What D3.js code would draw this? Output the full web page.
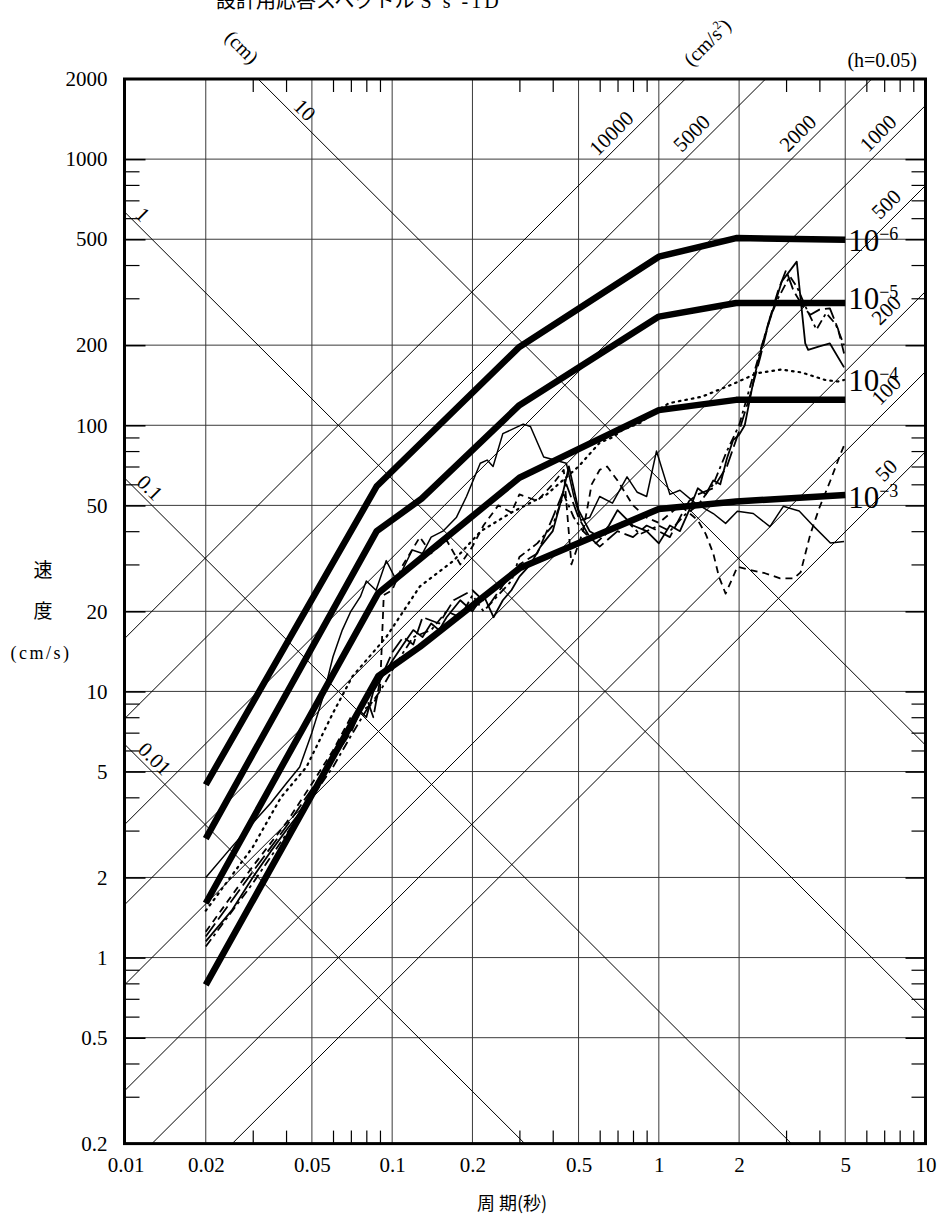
<!DOCTYPE html>
<html>
<head>
<meta charset="utf-8">
<script src="https://cdn.jsdelivr.net/npm/d3@7"></script>
<style>
  body { margin: 0; background: #fff; }
  svg { display: block; }
  .serif { font-family: "Liberation Serif", "Times New Roman", Times, "DejaVu Serif", serif; }
  .cjk { font-family: "Noto Sans CJK JP", "Noto Sans CJK SC", sans-serif; }
</style>
</head>
<body>
<svg id="chart" width="941" height="1218"></svg>
<script>
// axis ticks
const xTicks = [0.01, 0.02, 0.05, 0.1, 0.2, 0.5, 1, 2, 5, 10];
const xTickLabels = ["0.01", "0.02", "0.05", "0.1", "0.2", "0.5", "1", "2", "5", "10"];
const yTicks = [0.2, 0.5, 1, 2, 5, 10, 20, 50, 100, 200, 500, 1000, 2000];
const yTickLabels = ["0.2", "0.5", "1", "2", "5", "10", "20", "50", "100", "200", "500", "1000", "2000"];
const xGrid = [0.02, 0.05, 0.1, 0.2, 0.5, 1, 2, 5];
const yGrid = [0.5, 1, 2, 5, 10, 20, 50, 100, 200, 500, 1000];

// tripartite lines
const accelValues = [50, 100, 200, 500, 1000, 2000, 5000, 10000];   // cm/s2
const dispValues = [0.01, 0.1, 1, 10];                               // cm

// design spectra (period s, velocity cm/s)
const levelNames = ["-6", "-5", "-4", "-3"];
const level6 = [[0.02, 4.46], [0.0875, 59], [0.3, 197], [1, 430], [1.95, 505], [5, 498]];
const level5 = [[0.02, 2.8], [0.0875, 40], [0.129, 53], [0.3, 119], [1, 256], [1.95, 288], [5, 288]];
const level4 = [[0.02, 1.6], [0.0886, 23.4], [0.3, 63.5], [1, 114], [1.95, 124.6], [5, 124.6]];
const level3 = [[0.02, 0.79], [0.0886, 11.4], [0.127, 14.7], [0.3, 29], [1, 48.5], [1.95, 51.7], [5, 54.7]];

// observed spectra
const waveA = [[0.02, 2.0], [0.025, 2.6], [0.03, 3.2], [0.035, 3.8], [0.04, 4.5], [0.045, 5.2], [0.05, 7], [0.055, 9.5],
  [0.06, 13.5], [0.065, 17], [0.07, 20], [0.076, 22.7], [0.08, 26], [0.087, 24], [0.095, 31], [0.104, 26], [0.11, 29],
  [0.119, 34], [0.13, 33], [0.14, 38], [0.155, 40], [0.174, 45], [0.19, 54], [0.214, 72], [0.227, 74], [0.239, 70],
  [0.26, 93], [0.31, 101], [0.33, 99], [0.37, 76], [0.45, 72], [0.48, 54], [0.51, 44], [0.55, 45], [0.6, 54],
  [0.67, 51], [0.76, 64], [0.83, 56], [0.9, 54], [0.98, 80], [1.1, 55], [1.2, 57], [1.37, 51], [1.6, 46.6],
  [1.78, 42.8], [1.97, 47.5], [2.26, 46.6], [2.61, 41.6], [2.93, 49.6], [3.36, 47.6], [3.82, 41.6], [4.4, 36.1], [4.95, 36.6]];
const waveB = [[0.02, 1.15], [0.025, 1.5], [0.03, 2.0], [0.035, 2.5], [0.04, 3.0], [0.045, 3.5], [0.05, 4.2], [0.055, 4.8],
  [0.06, 5.5], [0.065, 6.5], [0.07, 7.5], [0.075, 8.5], [0.08, 8], [0.085, 10], [0.09, 11], [0.1, 13], [0.11, 15],
  [0.12, 17], [0.13, 16], [0.14, 18], [0.15, 17], [0.16, 19], [0.18, 22], [0.2, 20], [0.22, 23], [0.24, 19], [0.26, 22],
  [0.28, 24], [0.3, 27], [0.33, 30], [0.36, 35], [0.4, 40], [0.43, 52], [0.46, 70], [0.5, 48], [0.55, 40], [0.6, 38],
  [0.65, 42], [0.7, 48], [0.8, 42], [0.9, 40], [1.0, 36], [1.1, 42], [1.2, 40], [1.3, 48], [1.4, 58], [1.5, 55],
  [1.6, 62], [1.7, 60], [1.8, 75], [1.9, 88], [2.0, 92], [2.1, 100], [2.28, 152], [2.47, 209], [2.7, 278], [2.89, 347],
  [3.29, 412], [3.54, 203], [3.63, 192], [4.0, 198], [4.38, 203], [4.95, 165]];
const waveC = [[0.02, 1.2], [0.03, 2.1], [0.04, 3.1], [0.05, 4.3], [0.06, 5.6], [0.07, 7], [0.08, 9.5], [0.085, 8],
  [0.09, 11], [0.1, 14], [0.11, 16], [0.12, 15], [0.13, 19], [0.15, 18], [0.17, 22], [0.2, 24], [0.23, 21], [0.26, 25],
  [0.3, 30], [0.35, 33], [0.4, 45], [0.45, 60], [0.5, 45], [0.55, 38], [0.6, 35], [0.7, 40], [0.8, 38], [0.9, 42],
  [1.0, 40], [1.1, 38], [1.2, 45], [1.3, 52], [1.4, 55], [1.6, 58], [1.8, 70], [2.0, 95], [2.2, 130], [2.4, 180],
  [2.6, 250], [2.8, 320], [3.0, 383], [3.2, 320], [3.48, 278], [3.7, 260], [4.0, 272], [4.38, 275], [4.7, 230], [4.95, 186]];
const waveD = [[0.02, 1.1], [0.03, 1.9], [0.04, 2.9], [0.05, 4.0], [0.06, 5.2], [0.07, 6.8], [0.08, 8.5], [0.09, 10],
  [0.1, 12], [0.11, 14], [0.12, 16], [0.14, 17], [0.16, 20], [0.18, 19], [0.2, 23], [0.22, 20], [0.25, 23], [0.28, 26],
  [0.3, 32], [0.35, 36], [0.4, 42], [0.44, 55], [0.48, 45], [0.52, 40], [0.58, 36], [0.65, 40], [0.75, 44], [0.85, 39],
  [1.0, 42], [1.1, 40], [1.25, 46], [1.4, 50], [1.6, 60], [1.8, 80], [2.0, 100], [2.2, 140], [2.4, 190], [2.6, 250],
  [2.8, 300], [3.1, 363], [3.3, 330], [3.59, 272], [3.9, 229], [4.24, 264], [4.6, 240], [4.95, 200]];
const waveE = [[0.02, 1.25], [0.03, 2.2], [0.04, 3.2], [0.05, 4.5], [0.06, 6], [0.07, 8], [0.085, 9], [0.09, 10],
  [0.093, 23], [0.1, 24], [0.11, 30], [0.127, 38], [0.14, 33], [0.16, 37], [0.18, 30], [0.2, 35], [0.22, 42], [0.25, 50],
  [0.28, 47], [0.3, 55], [0.35, 52], [0.4, 60], [0.44, 68], [0.47, 30], [0.52, 40], [0.56, 60], [0.6, 68], [0.64, 70],
  [0.7, 62], [0.8, 50], [0.9, 45], [1.0, 43], [1.2, 50], [1.4, 44], [1.5, 39], [1.6, 33], [1.68, 27], [1.78, 23.3],
  [1.9, 27], [1.97, 29.4], [2.2, 28.6], [2.5, 27.8], [2.85, 26.6], [3.2, 26.6], [3.4, 28], [3.7, 39], [4.0, 49],
  [4.4, 62], [4.8, 78], [4.95, 84]];
const waveF = [[0.02, 1.5], [0.03, 2.6], [0.0383, 4.0], [0.0477, 5.2], [0.06, 8.3], [0.071, 11.4], [0.095, 16],
  [0.127, 24.8], [0.17, 31], [0.215, 40], [0.28, 47], [0.38, 55], [0.5, 70], [0.6, 86], [0.67, 90], [0.73, 96],
  [0.85, 102], [0.95, 111], [1.09, 121], [1.45, 128], [1.87, 142], [2.34, 157], [2.88, 162], [3.42, 158],
  [4.2, 148], [4.7, 146], [4.95, 148]];

const svg = d3.select("#chart");
const W = 941, H = 1218;
const pL = 125.5, pR = 925.5, pT = 79, pB = 1143.6;

svg.append("rect").attr("width", W).attr("height", H).attr("fill", "#fff");

const x = d3.scaleLog().domain([0.01, 10]).range([pL, pR]);
const y = d3.scaleLog().domain([0.2, 2000]).range([pB, pT]);

svg.append("clipPath").attr("id", "plotclip")
  .append("rect").attr("x", pL).attr("y", pT).attr("width", pR - pL).attr("height", pB - pT);

// grid
const grid = svg.append("g");
grid.selectAll(".vg").data(xGrid).enter().append("line")
  .attr("x1", d => x(d)).attr("x2", d => x(d)).attr("y1", pT).attr("y2", pB)
  .attr("stroke", "#3a3a3a").attr("stroke-width", 1);
grid.selectAll(".hg").data(yGrid).enter().append("line")
  .attr("x1", pL).attr("x2", pR).attr("y1", d => y(d)).attr("y2", d => y(d))
  .attr("stroke", "#3a3a3a").attr("stroke-width", 1);

// minor ticks on all four sides, pointing inward
const minorX = [];
[0.01, 0.1, 1].forEach(dec => [3, 4, 6, 7, 8, 9].forEach(m => minorX.push(+(dec * m).toPrecision(3))));
const minorY = [];
[0.1, 1, 10, 100].forEach(dec => [3, 4, 6, 7, 8, 9].forEach(m => {
  const v = +(dec * m).toPrecision(3);
  if (v >= 0.2 && v <= 2000) minorY.push(v);
}));

function tickAxis(axis, tx, ty) {
  const g = svg.append("g").attr("transform", `translate(${tx},${ty})`).call(axis);
  g.select(".domain").remove();
  g.selectAll("line").attr("stroke", "#000").attr("stroke-width", 1.2);
  return g;
}
tickAxis(d3.axisBottom(x).tickValues(minorX).tickSize(-13).tickFormat(""), 0, pB);
tickAxis(d3.axisTop(x).tickValues(minorX).tickSize(-13).tickFormat(""), 0, pT);
tickAxis(d3.axisLeft(y).tickValues(minorY).tickSize(-14).tickFormat(""), pL, 0);
tickAxis(d3.axisRight(y).tickValues(minorY).tickSize(-14).tickFormat(""), pR, 0);
tickAxis(d3.axisLeft(y).tickValues(yGrid).tickSize(-20).tickFormat(""), pL, 0).selectAll("line").attr("stroke-width", 1.6);
tickAxis(d3.axisRight(y).tickValues(yGrid).tickSize(-20).tickFormat(""), pR, 0).selectAll("line").attr("stroke-width", 1.6);

// tripartite diagonals
const diag = svg.append("g").attr("clip-path", "url(#plotclip)");
const accelSv = (a, T) => a * T / (2 * Math.PI);
const dispSv = (dd, T) => 2 * Math.PI * dd / T;
diag.selectAll(".acc").data(accelValues).enter().append("line")
  .attr("x1", x(0.001)).attr("y1", a => y(accelSv(a, 0.001)))
  .attr("x2", x(100)).attr("y2", a => y(accelSv(a, 100)))
  .attr("stroke", "#000").attr("stroke-width", 1);
diag.selectAll(".dsp").data(dispValues).enter().append("line")
  .attr("x1", x(0.001)).attr("y1", dd => y(dispSv(dd, 0.001)))
  .attr("x2", x(100)).attr("y2", dd => y(dispSv(dd, 100)))
  .attr("stroke", "#000").attr("stroke-width", 1);

// diagonal labels
const accelTop = [10000, 5000, 2000, 1000];
accelValues.forEach(a => {
  let px, py;
  if (accelTop.includes(a)) {
    const T = 2 * Math.PI * 1150 / a;
    px = x(T) - 10; py = y(1150) - 10;
  } else {
    const T = 7.75;
    px = x(T) - 10; py = y(accelSv(a, T)) - 11;
  }
  svg.append("text").attr("class", "serif").attr("transform", `translate(${px},${py}) rotate(-45)`)
    .attr("text-anchor", "middle").attr("dy", "0.35em").attr("font-size", 21).text(a);
});
const dispAnchor = { 0.01: 0.0129, 0.1: 0.01236, 1: 0.01163, 10: 0.0471 };
dispValues.forEach(dd => {
  const T = dispAnchor[dd];
  svg.append("text").attr("class", "serif").attr("transform", `translate(${x(T)},${y(dispSv(dd, T)) - 16}) rotate(45)`)
    .attr("text-anchor", "middle").attr("dy", "0.35em").attr("font-size", 21).text(dd);
});

// observed spectra
const line = d3.line().x(d => x(d[0])).y(d => y(d[1]));
const waves = [
  { data: waveF, dash: "1.6,5", w: 2.2, cap: "round" },
  { data: waveA, dash: null, w: 1.5 },
  { data: waveE, dash: "7,5", w: 1.8 },
  { data: waveC, dash: "16,5", w: 1.8 },
  { data: waveD, dash: "9,4,3,4", w: 1.8 },
  { data: waveB, dash: null, w: 1.8 }
];
const wg = svg.append("g").attr("clip-path", "url(#plotclip)");
waves.forEach(s => {
  wg.append("path").datum(s.data).attr("d", line)
    .attr("fill", "none").attr("stroke", "#000").attr("stroke-width", s.w)
    .attr("stroke-dasharray", s.dash).attr("stroke-linecap", s.cap || "butt")
    .attr("stroke-linejoin", "round");
});

// design spectra
const levels = [level6, level5, level4, level3];
svg.append("g").selectAll("path").data(levels).enter().append("path")
  .attr("d", line).attr("fill", "none").attr("stroke", "#000").attr("stroke-width", 6.5)
  .attr("stroke-linejoin", "round");

const labelShift = [0, -5, -20, 2];
levels.forEach((lv, i) => {
  const end = lv[lv.length - 1];
  const cy = y(end[1]) + labelShift[i];
  const t = svg.append("text").attr("class", "serif").attr("x", x(end[0]) + 3).attr("y", cy + 11)
    .attr("font-size", 31).attr("fill", "#000");
  t.append("tspan").text("10");
  t.append("tspan").attr("font-size", 18).attr("dx", 0).attr("dy", -11).text(levelNames[i].replace("-", "\u2212"));
});

// frame
svg.append("rect").attr("x", pL - 1).attr("y", pT).attr("width", pR - pL + 1).attr("height", pB - pT)
  .attr("fill", "none").attr("stroke", "#000").attr("stroke-width", 3);

// axis labels
const xAxis = svg.append("g").attr("transform", `translate(0,${pB})`)
  .call(d3.axisBottom(x).tickValues(xTicks).tickSize(0).tickPadding(13)
    .tickFormat((d, i) => xTickLabels[i]));
xAxis.select(".domain").remove();
xAxis.attr("font-family", null);
xAxis.selectAll("text").attr("class", "serif").attr("font-size", 21).attr("fill", "#000");

const yAxis = svg.append("g").attr("transform", `translate(${pL},0)`)
  .call(d3.axisLeft(y).tickValues(yTicks).tickSize(0).tickPadding(18)
    .tickFormat((d, i) => yTickLabels[i]));
yAxis.select(".domain").remove();
yAxis.attr("font-family", null);
yAxis.selectAll("text").attr("class", "serif").attr("font-size", 21).attr("fill", "#000");

// titles
const title = svg.append("text").attr("x", 216).attr("y", 8).attr("font-size", 20);
title.append("tspan").attr("class", "cjk").text("設計用応答スペクトル");
title.append("tspan").attr("class", "serif").attr("dx", 6).attr("letter-spacing", 3).text("S s -1D");
svg.append("text").attr("class", "serif").attr("x", 917).attr("y", 67).attr("text-anchor", "end")
  .attr("font-size", 20).text("(h=0.05)");
svg.append("text").attr("class", "serif").attr("transform", "translate(242,47) rotate(45)")
  .attr("text-anchor", "middle").attr("dy", "0.35em").attr("font-size", 20).text("(cm)");
const acc = svg.append("text").attr("class", "serif").attr("transform", "translate(707,42) rotate(-45)")
  .attr("text-anchor", "middle").attr("dy", "0.35em").attr("font-size", 20);
acc.append("tspan").text("(cm/s");
acc.append("tspan").attr("font-size", 12).attr("dy", -8).text("2");
acc.append("tspan").attr("dy", 8).text(")");

svg.append("text").attr("class", "cjk").attr("x", 43).attr("y", 577).attr("text-anchor", "middle")
  .attr("font-size", 19).text("速");
svg.append("text").attr("class", "cjk").attr("x", 43).attr("y", 618).attr("text-anchor", "middle")
  .attr("font-size", 19).text("度");
svg.append("text").attr("class", "serif").attr("x", 41).attr("y", 659).attr("text-anchor", "middle")
  .attr("letter-spacing", 2.5).attr("font-size", 18).text("(cm/s)");
svg.append("text").attr("class", "cjk").attr("x", 512).attr("y", 1210).attr("text-anchor", "middle")
  .attr("font-size", 18).text("周 期(秒)");
</script>
</body>
</html>
